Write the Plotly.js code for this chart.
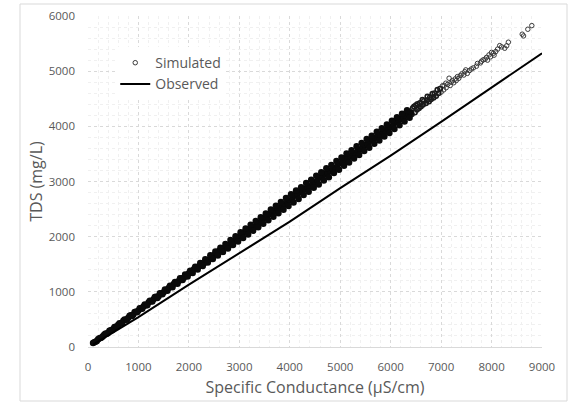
<!DOCTYPE html>
<html>
<head>
<meta charset="utf-8">
<script src="https://cdn.plot.ly/plotly-3.0.1.min.js"></script>
<style>html,body{margin:0;padding:0;background:#fff;}#chart{width:570px;height:402px;}</style>
</head>
<body>
<div id="chart"></div>
<script>
// Simulated TDS vs specific conductance
const coreX = [100,150,200,250,300,350,400,450,500,550,600,650,700,750,800,850,900,950,
1000,1050,1100,1150,1200,1250,1300,1350,1400,1450,1500,1550,1600,1650,1700,1750,1800,1850,1900,1950,
2000,2050,2100,2150,2200,2250,2300,2350,2400,2450,2500,2550,2600,2650,2700,2750,2800,2850,2900,2950,
3000,3050,3100,3150,3200,3250,3300,3350,3400,3450,3500,3550,3600,3650,3700,3750,3800,3850,3900,3950,
4000,4050,4100,4150,4200,4250,4300,4350,4400,4450,4500,4550,4600,4650,4700,4750,4800,4850,4900,4950,
5000,5050,5100,5150,5200,5250,5300,5350,5400,5450,5500,5550,5600,5650,5700,5750,5800,5850,5900,5950,
6000,6050,6100,6150,6200,6250,6300,6350,6400];
const coreY = [71,93,142,163,200,244,257,304,328,368,403,425,475,496,532,576,590,637,
660,700,736,758,807,828,865,909,922,969,993,1033,1068,1090,1140,1161,1197,1241,1255,1302,
1336,1353,1411,1425,1463,1512,1516,1571,1588,1632,1669,1686,1743,1757,1796,1845,1848,1903,1921,1965,
2003,2014,2080,2089,2128,2183,2177,2238,2251,2298,2336,2347,2412,2421,2461,2516,2509,2570,2584,2631,
2654,2693,2749,2742,2803,2816,2864,2901,2912,2977,2987,3026,3081,3074,3136,3149,3196,3233,3245,3310,
3333,3344,3410,3419,3458,3513,3507,3568,3581,3628,3666,3677,3742,3751,3791,3846,3839,3900,3914,3961,
3984,4023,4079,4072,4133,4146,4194,4231,4242];

const upperX = [125,225,325,425,525,625,725,825,925,1025,1125,1225,1325,1425,1525,1625,1725,1825,1925,
2025,2125,2225,2325,2425,2525,2625,2725,2825,2925,3025,3125,3225,3325,3425,3525,3625,3725,3825,3925,
4025,4125,4225,4325,4425,4525,4625,4725,4825,4925,5025,5125,5225,5325,5425,5525,5625,5725,5825,5925,
6025,6125,6225,6325];
const upperY = [88,158,226,295,362,431,498,567,634,702,770,838,906,974,1042,1111,1178,1247,1315,
1384,1453,1522,1591,1661,1730,1800,1869,1939,2008,2078,2146,2216,2284,2354,2422,2492,2561,2630,2699,
2767,2835,2898,2971,3033,3105,3166,3239,3299,3371,3434,3506,3565,3637,3700,3772,3831,3903,3966,4035,
4099,4163,4228,4291];

const lowerX = [175,275,375,475,575,675,775,875,975,1075,1175,1275,1375,1475,1575,1675,1775,1875,1975,
2075,2175,2275,2375,2475,2575,2675,2775,2875,2975,3075,3175,3275,3375,3475,3575,3675,3775,3875,3975,
4075,4175,4275,4375,4475,4575,4675,4775,4875,4975,5075,5175,5275,5375,5475,5575,5675,5775,5875,5975,
6075,6175,6275,6375];
const lowerY = [111,175,239,304,368,434,498,564,628,694,758,824,888,954,1018,1083,1148,1213,1277,
1342,1405,1469,1533,1597,1660,1724,1787,1851,1914,1978,2041,2106,2169,2234,2297,2362,2425,2490,2554,
2620,2682,2755,2813,2886,2947,3020,3078,3152,3213,3285,3344,3418,3479,3551,3610,3683,3745,3815,3879,
3950,4018,4088,4157];

const tailX = [6420,6440,6465,6480,6500,6520,6531,6560,6580,6600,6630,6640,6660,6700,6720,6729,6760,6780,6800,
6828,6850,6870,6900,6927,6950,6980];
const tailY = [4220,4330,4357,4250,4380,4300,4406,4330,4420,4360,4479,4390,4460,4420,4470,4539,4450,4530,4490,
4588,4520,4600,4550,4660,4600,4680];

const sparseX = [7000,7026,7050,7060,7093,7100,7130,7158,7180,7200,7224,7250,7280,7300,
7323,7350,7380,7410,7450,7470,7489,7520,7560,7600,7640,7700,7720,7780,7800,7832,7871,7900,7920,7950,7980,
8000,8036,8050,8083,8120,8162,8200,8261,8300,8333,8608,8634,8719,8798];
const sparseY = [4620,4733,4660,4740,4782,4700,4760,4872,4740,4800,4829,4790,4860,4830,
4901,4870,4920,4950,4930,4990,5023,4960,5010,5040,5060,5090,5140,5150,5180,5204,5217,5250,5200,5295,5260,
5340,5325,5290,5355,5400,5463,5440,5416,5460,5525,5670,5639,5760,5826];

// Observed relationship
const obsX = [100, 1000, 2000, 3000, 4000, 5000, 6000, 7000, 8000, 9000];
const obsY = [45, 540, 1130, 1700, 2272, 2880, 3470, 4080, 4700, 5325];

const denseX = coreX.concat(upperX, lowerX);
const denseY = coreY.concat(upperY, lowerY);

const FONT = '"Open Sans", "Liberation Sans", sans-serif';
const GREY = '#595959';

const traces = [
  {
    x: sparseX, y: sparseY, name: 'Simulated', type: 'scatter', mode: 'markers',
    legendgroup: 'sim',
    marker: {symbol: 'circle-open', size: 4.5, color: '#3a3a3a', line: {width: 1, color: '#3a3a3a'}}
  },
  {
    x: tailX, y: tailY, name: 'Simulated', type: 'scatter', mode: 'markers',
    legendgroup: 'sim', showlegend: false,
    marker: {symbol: 'circle-open', size: 4.5, color: '#1a1a1a', line: {width: 1.6, color: '#1a1a1a'}}
  },
  {
    x: denseX, y: denseY, name: 'Simulated', type: 'scatter', mode: 'markers',
    legendgroup: 'sim', showlegend: false,
    marker: {symbol: 'circle', size: 6.5, color: '#0a0a0a', line: {width: 0}}
  },
  {
    x: obsX, y: obsY, name: 'Observed', type: 'scatter', mode: 'lines',
    line: {color: '#000000', width: 2}
  }
];

const layout = {
  width: 570, height: 402,
  margin: {l: 88, r: 28, t: 16, b: 55, pad: 0},
  paper_bgcolor: '#ffffff', plot_bgcolor: '#ffffff',
  font: {family: FONT, color: GREY, size: 11},
  showlegend: true,
  legend: {
    x: 0.06, y: 0.906, xanchor: 'left', yanchor: 'top',
    bgcolor: '#ffffff', borderwidth: 0,
    font: {family: FONT, size: 14, color: GREY},
    itemwidth: 30, tracegroupgap: 0
  },
  xaxis: {
    range: [0, 9000], dtick: 1000, tick0: 0,
    showgrid: true, gridcolor: '#d9d9d9', griddash: 'dot', gridwidth: 1,
    minor: {dtick: 200, showgrid: true, gridcolor: '#f0f0f0', gridwidth: 1},
    showline: true, linecolor: '#d9d9d9', linewidth: 1,
    zeroline: false, ticks: '', ticklabelstandoff: 9,
    tickfont: {family: FONT, size: 11.5, color: GREY},
    title: {text: 'Specific Conductance (µS/cm)', font: {family: FONT, size: 16, color: GREY}, standoff: 9},
    fixedrange: true
  },
  yaxis: {
    range: [0, 6000], dtick: 1000, tick0: 0,
    showgrid: true, gridcolor: '#d9d9d9', griddash: 'dot', gridwidth: 1,
    minor: {dtick: 200, showgrid: true, gridcolor: '#f0f0f0', gridwidth: 1},
    showline: false, zeroline: false, ticks: '', ticklabelstandoff: 12,
    tickfont: {family: FONT, size: 11.5, color: GREY},
    title: {text: 'TDS (mg/L)', font: {family: FONT, size: 16, color: GREY}, standoff: 2},
    fixedrange: true
  },
  shapes: [
    {type: 'rect', xref: 'paper', yref: 'paper',
     x0: (20 - 88) / 454, x1: (567 - 88) / 454, y0: (347 - 401) / 331, y1: (347 - 4) / 331,
     line: {color: '#d9d9d9', width: 1}, fillcolor: 'rgba(0,0,0,0)', layer: 'below'}
  ]
};

Plotly.newPlot('chart', traces, layout, {displayModeBar: false, staticPlot: true});
</script>
</body>
</html>
